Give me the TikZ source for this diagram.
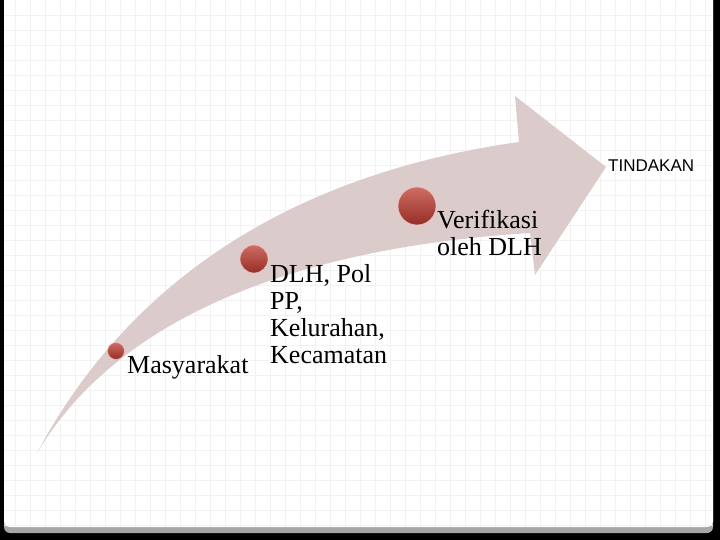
\documentclass[tikz,border=0pt]{standalone}
\usepackage{fontspec}
\setmainfont{Liberation Serif}
\newfontfamily\tindakanfont{Liberation Sans}
\usetikzlibrary{positioning}
\definecolor{arrowpink}{RGB}{220,203,203}
\definecolor{dotred}{RGB}{196,84,72}
\definecolor{dotdark}{RGB}{150,45,38}
\definecolor{gridgray}{RGB}{242,242,242}

\begin{document}
\begin{tikzpicture}[x=1pt, y=-1pt,
dotnode/.style={circle, inner sep=0pt, top color=dotred!85!white, bottom color=dotdark, draw=dotred!35!white, line width=0.6pt},
labelnode/.style={anchor=base west, inner sep=0pt, align=left, font=\fontsize{26}{26.7}\selectfont},
]
\useasboundingbox (0,0) rectangle (720,540);
%Frame
\fill[black] (0,0) rectangle (720,540);
\fill[gray!70, rounded corners=6pt] (4,-10) rectangle (713,533);
\fill[white, rounded corners=6pt] (4,-10) rectangle (713,527);

%Grid
\begin{scope}
\clip (4,0) rectangle (713,526);
\foreach \x in {15,30,...,705} \draw[gridgray, line width=0.5pt] (\x,0) -- (\x,527);
\foreach \y in {15,30,...,525} \draw[gridgray, line width=0.5pt] (4,\y) -- (713,\y);
\end{scope}

%Arrow
\fill[arrowpink] (37,453) .. controls (140,260) and (320,170) .. (519,142)
  -- (515,96) -- (606,167) -- (535,275) -- (530,233)
  .. controls (340,245) and (130,297) .. cycle;

%Nodes
\node[dotnode, minimum size=17pt] (dotA) at (116,351) {};
\node[dotnode, minimum size=28pt] (dotB) at (254,259) {};
\node[dotnode, minimum size=38pt] (dotC) at (417,206) {};

\node[labelnode] (masyarakat) at (127,373) {Masyarakat};
\node[labelnode] (dlh) at (270,363) {DLH, Pol\\PP,\\Kelurahan,\\Kecamatan};
\node[labelnode] (verifikasi) at (437,255) {Verifikasi\\oleh DLH};
\node[anchor=base west, inner sep=0pt, font=\tindakanfont\fontsize{17}{20}\selectfont] (tindakan) at (608,172) {TINDAKAN};
\end{tikzpicture}
\end{document}
